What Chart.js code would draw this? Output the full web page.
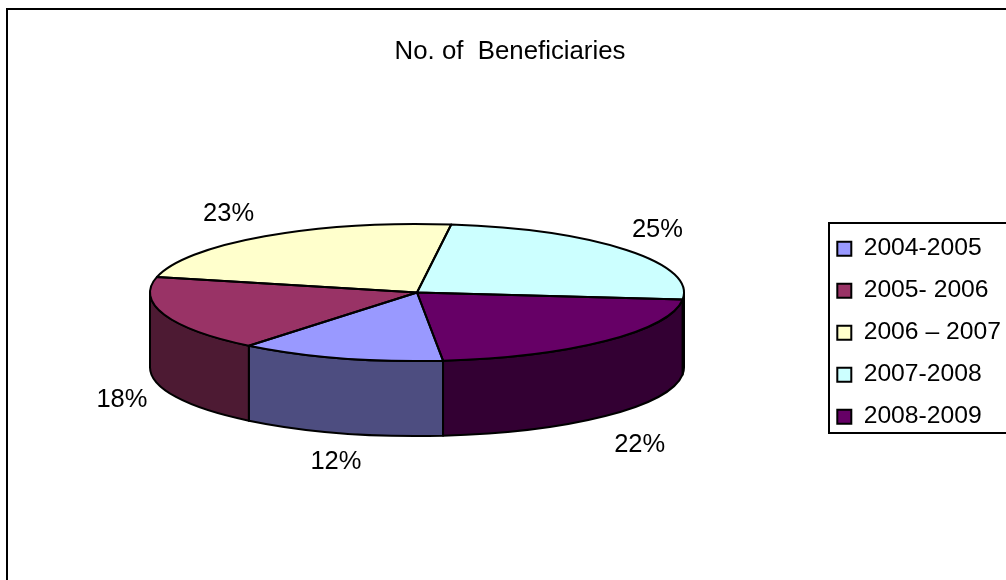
<!DOCTYPE html>
<html>
<head>
<meta charset="utf-8">
<style>html,body{margin:0;padding:0;background:#fff;overflow:hidden}canvas{display:block}</style>
<script src="https://cdn.jsdelivr.net/npm/chart.js@4/dist/chart.umd.min.js"></script>
</head>
<body>
<canvas id="c" width="1006" height="580"></canvas>
<script>
const categories = ['2004-2005', '2005- 2006', '2006 \u2013 2007', '2007-2008', '2008-2009'];
const shares = [12.4, 17.8, 23.4, 24.6, 21.8];
const topColors = ['#9999ff', '#993366', '#ffffcc', '#ccffff', '#660066'];
const wallColors = ['#4d4d80', '#4d1a33', '#80806a', '#6a8080', '#330033'];
const chartTitle = 'No. of  Beneficiaries';

const FONT = '"Liberation Sans", Arial, sans-serif';
const FS = 24.7;
const CX = 417, CY = 292.5, RX = 267, RY = 68.5, DEPTH = 75;
const LABEL_RX = 313, LABEL_RY = 99;
const labelNudgeX = [9, 1, -10, -5, 2];
const labelNudgeY = [0, 0, 3, -1, 7];

const tilt = {
  id: 'tilt',
  afterLayout(chart) {
    chart.chartArea = {left: CX - RX, right: CX + RX, top: CY - RX, bottom: CY + RX, width: 2 * RX, height: 2 * RX};
    chart.legend.left = 820; chart.legend.right = 1006;
    chart.legend.top = 219; chart.legend.bottom = 480;
    chart.titleBlock.left = 14; chart.titleBlock.right = 1006;
  },
  beforeDraw(chart) {
    const c = chart.ctx;
    c.save();
    c.fillStyle = '#fff';
    c.fillRect(0, 0, chart.width, chart.height);
    c.strokeStyle = '#000';
    c.lineWidth = 2;
    c.beginPath();
    c.moveTo(7, 580); c.lineTo(7, 9); c.lineTo(1006, 9);
    c.stroke();
    c.beginPath();
    c.moveTo(1010, 223); c.lineTo(829, 223); c.lineTo(829, 433); c.lineTo(1010, 433);
    c.stroke();
    c.restore();
  },
  beforeDatasetsDraw(chart) {
    const c = chart.ctx;
    const arcs = chart.getDatasetMeta(0).data;
    c.save();
    c.lineWidth = 2;
    c.lineJoin = 'round';
    c.strokeStyle = '#000';
    arcs.forEach((el, i) => {
      for (let k = -1; k <= 1; k++) {
        const lo = Math.max(el.startAngle, 2 * Math.PI * k);
        const hi = Math.min(el.endAngle, Math.PI + 2 * Math.PI * k);
        if (hi > lo) {
          c.beginPath();
          c.ellipse(CX, CY, RX, RY, 0, lo, hi);
          c.ellipse(CX, CY + DEPTH, RX, RY, 0, hi, lo, true);
          c.closePath();
          c.fillStyle = wallColors[i];
          c.fill();
          c.stroke();
        }
      }
    });
    c.restore();
    c.save();
    c.translate(CX, CY);
    c.scale(1, RY / RX);
    c.translate(-CX, -CY);
  },
  afterDatasetsDraw(chart) {
    const c = chart.ctx;
    c.restore();
    const arcs = chart.getDatasetMeta(0).data;
    const total = shares.reduce((a, b) => a + b, 0);
    c.save();
    c.lineWidth = 2;
    c.lineJoin = 'round';
    c.strokeStyle = '#000';
    arcs.forEach(el => {
      c.beginPath();
      c.moveTo(CX, CY);
      c.ellipse(CX, CY, RX, RY, 0, el.startAngle, el.endAngle);
      c.closePath();
      c.stroke();
    });
    c.fillStyle = '#000';
    c.font = '25.5px ' + FONT;
    c.textAlign = 'center';
    c.textBaseline = 'middle';
    arcs.forEach((el, i) => {
      const a = (el.startAngle + el.endAngle) / 2;
      const s = Math.sin(a);
      const x = CX + LABEL_RX * Math.cos(a) + labelNudgeX[i];
      const y = CY + LABEL_RY * s + (s > 0 ? DEPTH : 0) + labelNudgeY[i];
      c.fillText(Math.round(shares[i] / total * 100) + '%', x, y);
    });
    c.restore();
  }
};

new Chart(document.getElementById('c'), {
  type: 'pie',
  data: {
    labels: categories,
    datasets: [{data: shares, backgroundColor: topColors, borderWidth: 0}]
  },
  options: {
    responsive: false,
    animation: false,
    rotation: 174.4,
    events: [],
    plugins: {
      tooltip: {enabled: false},
      title: {
        display: true,
        text: chartTitle,
        color: '#000',
        font: {family: FONT, size: 25.8, weight: 'normal'},
        padding: {top: 36, bottom: 10}
      },
      legend: {
        position: 'right',
        align: 'start',
        labels: {
          color: '#000',
          font: {family: FONT, size: FS},
          boxWidth: 14,
          boxHeight: 14,
          padding: 17.3,
          generateLabels(chart) {
            return Chart.overrides.pie.plugins.legend.labels.generateLabels(chart).map(l => Object.assign(l, {strokeStyle: '#000', lineWidth: 2}));
          }
        }
      }
    }
  },
  plugins: [tilt]
});
</script>
</body>
</html>
